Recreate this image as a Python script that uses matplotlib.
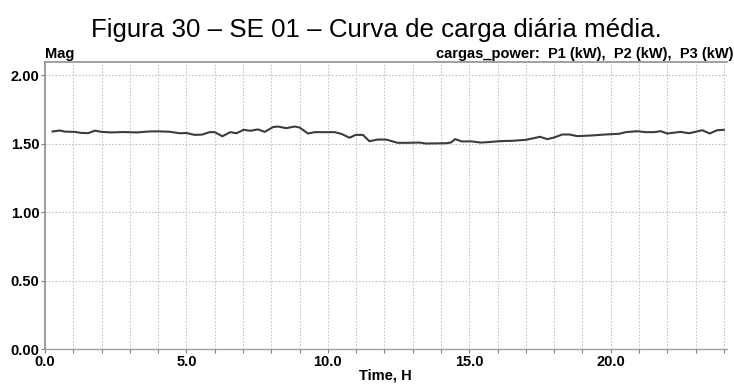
import numpy as np
import matplotlib
matplotlib.use('Agg')
import matplotlib.pyplot as plt
from matplotlib.ticker import MultipleLocator

# Curva de carga diária média - SE 01
hours = [0.27, 0.53, 0.70, 1.06, 1.29, 1.53, 1.77, 2.00, 2.35, 2.76, 3.24, 3.70,
         4.00, 4.41, 4.76, 5.00, 5.29, 5.55, 5.82, 6.00, 6.27, 6.55, 6.77, 7.02,
         7.26, 7.53, 7.77, 8.06, 8.24, 8.53, 8.82, 9.00, 9.30, 9.53, 10.24, 10.47,
         10.77, 10.98, 11.24, 11.47, 11.76, 12.06, 12.47, 12.77, 13.24, 13.47, 14.18,
         14.35, 14.50, 14.74, 15.06, 15.41, 15.71, 16.06, 16.53, 17.00, 17.24, 17.50,
         17.76, 18.00, 18.29, 18.53, 18.82, 19.35, 19.82, 20.30, 20.53, 20.94, 21.24,
         21.53, 21.77, 22.00, 22.47, 22.77, 23.24, 23.50, 23.76, 24.00]
mag = [1.588, 1.595, 1.587, 1.585, 1.577, 1.576, 1.594, 1.585, 1.581, 1.584, 1.581, 1.588,
       1.589, 1.586, 1.575, 1.577, 1.563, 1.565, 1.583, 1.583, 1.553, 1.583, 1.575, 1.600,
       1.593, 1.603, 1.585, 1.620, 1.624, 1.612, 1.624, 1.617, 1.573, 1.583, 1.583, 1.571,
       1.542, 1.563, 1.563, 1.517, 1.529, 1.529, 1.505, 1.505, 1.507, 1.500, 1.502,
       1.507, 1.532, 1.515, 1.516, 1.507, 1.511, 1.517, 1.520, 1.527, 1.537, 1.549,
       1.532, 1.544, 1.566, 1.566, 1.554, 1.559, 1.566, 1.571, 1.583, 1.590, 1.583,
       1.583, 1.590, 1.573, 1.585, 1.575, 1.597, 1.573, 1.597, 1.600]

title = "Figura 30 – SE 01 – Curva de carga diária média."
series_label = "cargas_power:  P1 (kW),  P2 (kW),  P3 (kW)"

plt.rcParams['font.family'] = ['Liberation Sans', 'DejaVu Sans']

fig = plt.figure(figsize=(7.34, 3.91), dpi=100)
ax = fig.add_axes([0.0613, 0.1074, 0.9287, 0.734])

ax.plot(hours, mag, color='#3c3c3c', linewidth=1.5)

ax.set_xlim(0, 24.1)
ax.set_ylim(0, 2.095)
ax.xaxis.set_major_locator(MultipleLocator(5))
ax.xaxis.set_minor_locator(MultipleLocator(1))
ax.yaxis.set_major_locator(MultipleLocator(0.5))
ax.xaxis.set_major_formatter(matplotlib.ticker.FormatStrFormatter('%.1f'))
ax.yaxis.set_major_formatter(matplotlib.ticker.FormatStrFormatter('%.2f'))

ax.grid(True, which='both', axis='x', color='#c4c4c4', linestyle=(0, (1.5, 1.5)), linewidth=0.8)
ax.grid(True, which='major', axis='y', color='#c4c4c4', linestyle=(0, (1.5, 1.5)), linewidth=0.8)

ax.tick_params(axis='both', which='both', direction='out', length=3, width=0.8,
               color='#808080', labelsize=10.5)
ax.tick_params(axis='x', which='major', pad=1)
ax.tick_params(axis='y', which='major', pad=1)
for lbl in ax.get_xticklabels() + ax.get_yticklabels():
    lbl.set_fontweight('bold')

for side in ['left', 'top']:
    ax.spines[side].set_color('#909090')
    ax.spines[side].set_linewidth(1.2)
ax.spines['right'].set_visible(False)
ax.spines['bottom'].set_color('#a0a0a0')
ax.spines['bottom'].set_linestyle((0, (1.5, 1.0)))
ax.spines['bottom'].set_linewidth(1.0)

ax.set_xlabel("Time, H", fontsize=10.5, fontweight='bold', labelpad=0)
ax.text(0.0, 1.005, "Mag", transform=ax.transAxes, fontsize=10.5,
        fontweight='bold', ha='left', va='bottom')
ax.text(1.01, 1.005, series_label, transform=ax.transAxes, fontsize=10.5,
        fontweight='bold', ha='right', va='bottom')

fig.text(0.513, 1 - 18 / 391, title, fontsize=18.6, ha='center', va='top')

fig.savefig('out.png', dpi=100)
